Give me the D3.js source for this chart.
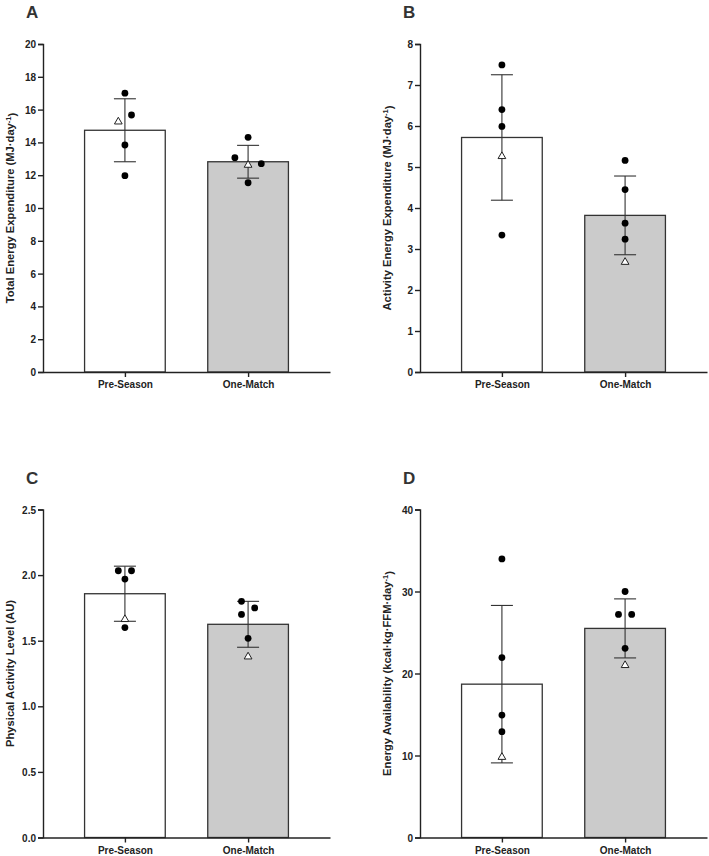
<!DOCTYPE html>
<html>
<head>
<meta charset="UTF-8">
<style>
  body { margin: 0; background: #fff; }
  svg { display: block; font-family: "Liberation Sans", Arial, sans-serif; }
  .tick text { font-weight: bold; font-size: 10px; fill: #222; }
  .domain, .tick line { stroke: #222; stroke-width: 1.4px; }
</style>
</head>
<body>
<svg width="709" height="856"></svg>
<script src="https://d3js.org/d3.v7.min.js"></script>
<script>
// data
const categories = ["Pre-Season", "One-Match"];
const letters = ["A", "B", "C", "D"];
const yTitles = ["Total Energy Expenditure (MJ·day", "Activity Energy Expenditure (MJ·day",
                 "Physical Activity Level (AU)", "Energy Availability (kcal·kg·FFM·day"];
const yTitleSup = [true, true, false, true];
const yMax = [20, 8, 2.5, 40];
const yTicks = [[0,2,4,6,8,10,12,14,16,18,20], [0,1,2,3,4,5,6,7,8],
                [0,0.5,1.0,1.5,2.0,2.5], [0,10,20,30,40]];
const yFormat = ["d", "d", ".1f", "d"];

const means = [[14.74, 12.82], [5.72, 3.82], [1.858, 1.625], [18.7, 25.5]];
const sds = [[1.92, 1.0], [1.53, 0.96], [0.21, 0.175], [9.6, 3.6]];

// individual players (dots) and the one triangle player
const dotsPre = [[17.0, 15.67, 13.84, 11.97], [7.49, 6.40, 5.99, 3.34],
                 [2.033, 2.033, 1.97, 1.60], [33.97, 21.94, 14.93, 12.9]];
const dotsPreSlot = [[0, 1, 0, 0], [0, 0, 0, 0], [-1, 1, 0, 0], [0, 0, 0, 0]];
const dotsOne = [[14.31, 13.07, 12.7, 11.54], [5.16, 4.45, 3.63, 3.24],
                 [1.80, 1.75, 1.70, 1.518], [30.0, 27.2, 27.2, 23.07]];
const dotsOneSlot = [[0, -2, 2, 0], [0, 0, 0, 0], [-1, 1, -1, 0], [0, -1, 1, 0]];
const triPre = [15.26, 5.26, 1.663, 9.8];
const triPreSlot = [-1, 0, 0, 0];
const triOne = [12.62, 2.68, 1.378, 21.0];
const triOneSlot = [0, 0, 0, 0];

const barFill = ["#ffffff", "#cbcbcb"];

let svg = d3.select("svg");
let plotW = 287, plotH = 328;
let origins = [[43, 44], [420, 44], [43, 509.5], [420, 509.5]];
let jitter = 6.6;

letters.forEach((letter, i) => {
  let [ox, oy] = origins[i];
  let g = svg.append("g").attr("transform", "translate(" + ox + "," + oy + ")");

  let x = d3.scalePoint().domain(categories).range([0, plotW]).padding(0.665);
  let bw = x.step() * 0.655;
  let y = d3.scaleLinear().domain([0, yMax[i]]).range([plotH, 0]);

  // bars
  g.selectAll("rect.bar").data(categories).enter().append("rect")
    .attr("x", d => x(d) - bw / 2)
    .attr("y", (d, j) => y(means[i][j]))
    .attr("width", bw)
    .attr("height", (d, j) => plotH - y(means[i][j]))
    .attr("fill", (d, j) => barFill[j])
    .attr("stroke", "#333").attr("stroke-width", 1.3);

  // error bars (mean ± SD)
  categories.forEach((c, j) => {
    let cx = x(c), hi = y(means[i][j] + sds[i][j]), lo = y(means[i][j] - sds[i][j]);
    let eb = g.append("g").attr("stroke", "#333").attr("stroke-width", 1.1);
    eb.append("line").attr("x1", cx).attr("x2", cx).attr("y1", hi).attr("y2", lo);
    eb.append("line").attr("x1", cx - 11).attr("x2", cx + 11).attr("y1", hi).attr("y2", hi);
    eb.append("line").attr("x1", cx - 11).attr("x2", cx + 11).attr("y1", lo).attr("y2", lo);
  });

  // points
  [[dotsPre[i], dotsPreSlot[i]], [dotsOne[i], dotsOneSlot[i]]].forEach((p, j) => {
    g.selectAll(null).data(p[0]).enter().append("circle")
      .attr("cx", (d, k) => x(categories[j]) + p[1][k] * jitter)
      .attr("cy", d => y(d))
      .attr("r", 3.4)
      .attr("fill", "#000");
  });
  let tri = d3.symbol().type(d3.symbolTriangle).size(26);
  [[triPre[i], triPreSlot[i]], [triOne[i], triOneSlot[i]]].forEach((t, j) => {
    g.append("path").attr("d", tri)
      .attr("transform", "translate(" + (x(categories[j]) + t[1] * jitter) + "," + y(t[0]) + ")")
      .attr("fill", "#fff").attr("stroke", "#222").attr("stroke-width", 1);
  });

  // axes
  g.append("g")
    .call(d3.axisLeft(y).tickValues(yTicks[i]).tickFormat(d3.format(yFormat[i])).tickSize(5).tickPadding(2))
    .call(a => a.selectAll(".tick text").attr("dy", "0.35em"));
  g.append("g").attr("transform", "translate(0," + plotH + ")")
    .call(d3.axisBottom(x).tickSize(5).tickSizeOuter(0).tickPadding(4))
    .call(a => a.selectAll(".tick text").style("font-size", "10px"));

  // y title
  let t = g.append("text")
    .attr("transform", "translate(-29," + plotH / 2 + ") rotate(-90)")
    .attr("text-anchor", "middle")
    .style("font-weight", "bold").style("font-size", "11.2px").attr("fill", "#222")
    .text(yTitles[i]);
  if (yTitleSup[i]) {
    t.append("tspan").attr("dy", "-0.45em").style("font-size", "7.5px").text("-1");
    t.append("tspan").attr("dy", "0.45em").text(")");
  }

  // panel letter
  svg.append("text")
    .attr("x", ox - 17).attr("y", oy - 26)
    .style("font-weight", "bold").style("font-size", "17px").attr("fill", "#333")
    .text(letter);
});
</script>
</body>
</html>
